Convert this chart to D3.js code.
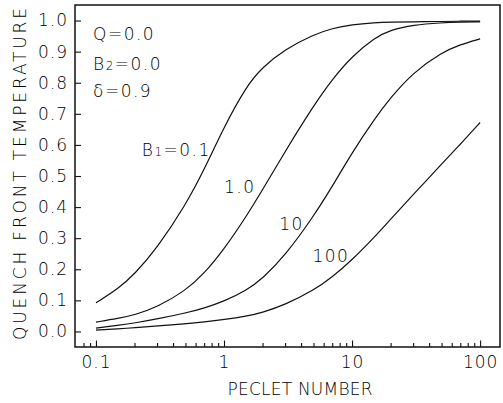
<!DOCTYPE html>
<html>
<head>
<meta charset="utf-8">
<script src="https://cdn.jsdelivr.net/npm/d3@7/dist/d3.min.js"></script>
<style>
  body { margin: 0; background: #fff; }
  text { font-family: "DejaVu Sans", "Liberation Sans", sans-serif; font-weight: 200; fill: #000; }
</style>
</head>
<body>
<svg id="chart" width="503" height="403"></svg>
<script>
// peclet number grid (log spaced)
var peclet = [0.1, 0.15, 0.2, 0.3, 0.5, 0.7, 1, 1.5, 2, 3, 5, 7, 10, 15, 20, 30, 50, 70, 100];
// quench front temperature for each B1
var tB1_01  = [0.092, 0.138, 0.184, 0.268, 0.406, 0.520, 0.658, 0.790, 0.850, 0.908, 0.955, 0.975, 0.987, 0.993, 0.995, 0.996, 0.997, 0.998, 0.998];
var tB1_1   = [0.030, 0.042, 0.053, 0.078, 0.131, 0.186, 0.264, 0.371, 0.456, 0.579, 0.726, 0.811, 0.885, 0.945, 0.970, 0.986, 0.993, 0.995, 0.996];
var tB1_10  = [0.011, 0.020, 0.027, 0.040, 0.059, 0.075, 0.097, 0.132, 0.170, 0.244, 0.370, 0.466, 0.575, 0.684, 0.752, 0.833, 0.897, 0.923, 0.941];
var tB1_100 = [0.004, 0.0086, 0.012, 0.0174, 0.0247, 0.0305, 0.038, 0.049, 0.061, 0.086, 0.132, 0.175, 0.230, 0.304, 0.361, 0.440, 0.538, 0.602, 0.672];
var seriesList = [tB1_01, tB1_1, tB1_10, tB1_100];

var xMajor = [0.1, 1, 10, 100];
var xMajorLabels = ["0.1", "1", "10", "100"];
var xMinor = [0.08, 0.09, 0.2, 0.3, 0.4, 0.5, 0.6, 0.7, 0.8, 0.9, 2, 3, 4, 5, 6, 7, 8, 9, 20, 30, 40, 50, 60, 70, 80, 90];
var yTicks = [0, 0.1, 0.2, 0.3, 0.4, 0.5, 0.6, 0.7, 0.8, 0.9, 1.0];

var curveLabels = [
  { main: "B", sub: "1", rest: "=0.1", x: 0.228, y: 0.563 },
  { main: "1.0", sub: "", rest: "", x: 1.0, y: 0.444 },
  { main: "10", sub: "", rest: "", x: 2.7, y: 0.325 },
  { main: "100", sub: "", rest: "", x: 4.9, y: 0.225 }
];
var params = [
  { main: "Q", sub: "", rest: "=0.0", y: 0.936 },
  { main: "B", sub: "2", rest: "=0.0", y: 0.84 },
  { main: "\u03b4", sub: "", rest: "=0.9", y: 0.753 }
];

var plotLeft = 75, plotRight = 500, plotTop = 5, plotBottom = 347;
var svg = d3.select("#chart");

var x = d3.scaleLog().domain([0.0686, 143]).range([plotLeft, plotRight]);
var y = d3.scaleLinear().domain([-0.05, 1.05]).range([plotBottom, plotTop]);

// y axis, ticks point inward
var yAxis = svg.append("g")
  .attr("transform", "translate(" + plotLeft + ",0)")
  .call(d3.axisLeft(y).tickValues(yTicks).tickFormat(d3.format(".1f")).tickSize(-6).tickPadding(7));
yAxis.select(".domain").remove();

var xAxis = svg.append("g")
  .attr("transform", "translate(0," + plotBottom + ")")
  .call(d3.axisBottom(x).tickValues(xMajor).tickFormat(function(d, i) { return xMajorLabels[i]; }).tickSize(-6.5).tickPadding(9));
xAxis.select(".domain").remove();

var xMinorAxis = svg.append("g")
  .attr("transform", "translate(0," + plotBottom + ")")
  .call(d3.axisBottom(x).tickValues(xMinor).tickFormat("").tickSize(-4));
xMinorAxis.select(".domain").remove();

svg.selectAll(".tick line").attr("stroke", "#111").attr("stroke-width", 1.1);
svg.selectAll(".tick text")
  .style("font-size", "17px")
  .style("letter-spacing", "1px")
  .style("font-family", "'DejaVu Sans', sans-serif");

// frame
svg.append("rect")
  .attr("x", plotLeft).attr("y", plotTop)
  .attr("width", plotRight - plotLeft).attr("height", plotBottom - plotTop)
  .attr("fill", "none").attr("stroke", "#111").attr("stroke-width", 1.5);

var line = d3.line()
  .x(function(d) { return x(d[0]); })
  .y(function(d) { return y(d[1]); })
  .curve(d3.curveBasis);

svg.append("g").selectAll("path")
  .data(seriesList)
  .enter().append("path")
  .attr("d", function(s) { return line(peclet.map(function(p, i) { return [p, s[i]]; })); })
  .attr("fill", "none")
  .attr("stroke", "#111")
  .attr("stroke-width", 1.2);

function addLabel(g, d, px, py) {
  var t = g.append("text")
    .attr("x", px).attr("y", py)
    .style("font-size", "17px")
    .style("letter-spacing", "1.5px");
  t.append("tspan").text(d.main);
  if (d.sub) t.append("tspan").style("font-size", "12px").text(d.sub);
  if (d.rest) t.append("tspan").text(d.rest);
  return t;
}

var labels = svg.append("g");
curveLabels.forEach(function(d) { addLabel(labels, d, x(d.x), y(d.y)); });
params.forEach(function(d) { addLabel(labels, d, 93, y(d.y)); });

svg.append("text")
  .attr("x", 300).attr("y", 395)
  .attr("text-anchor", "middle")
  .attr("textLength", 145)
  .style("font-size", "17px")
  .text("PECLET NUMBER");

svg.append("text")
  .attr("transform", "translate(26,174) rotate(-90)")
  .attr("text-anchor", "middle")
  .attr("textLength", 332)
  .attr("lengthAdjust", "spacing")
  .style("font-size", "17px")
  .text("QUENCH FRONT TEMPERATURE");
</script>
</body>
</html>
